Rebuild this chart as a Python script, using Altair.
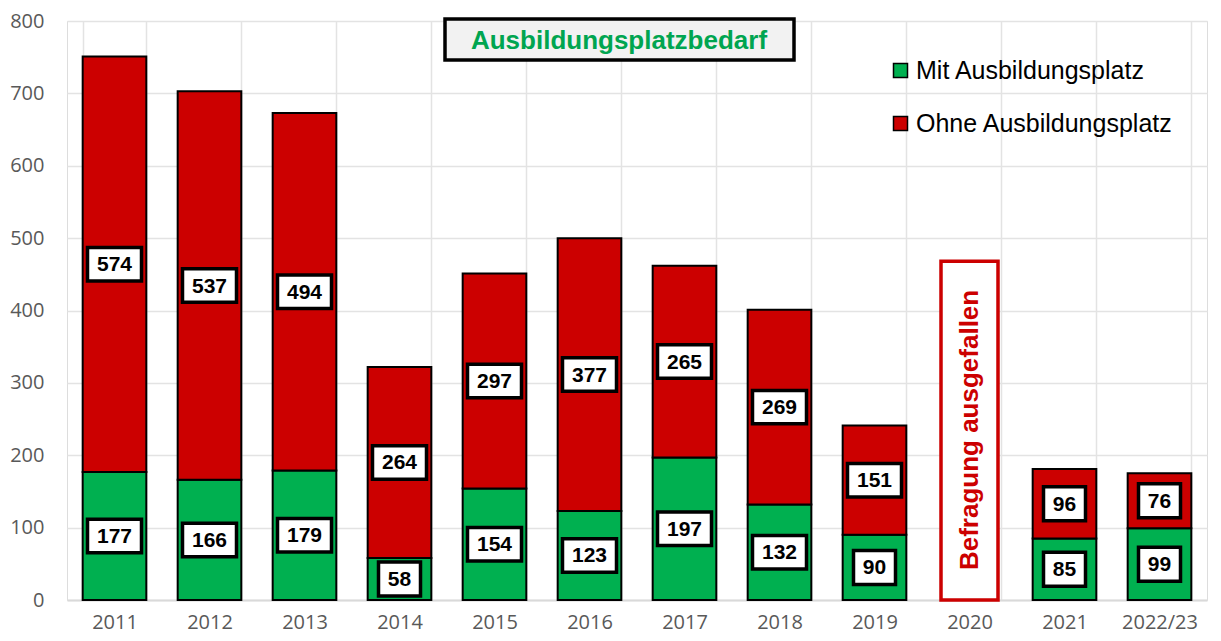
import altair as alt
import pandas as pd

categories = ["2011", "2012", "2013", "2014", "2015", "2016", "2017", "2018", "2019", "2020", "2021", "2022/23"]
mit = [177, 166, 179, 58, 154, 123, 197, 132, 90, None, 85, 99]
ohne = [574, 537, 494, 264, 297, 377, 265, 269, 151, None, 96, 76]
series_names = ["Mit Ausbildungsplatz", "Ohne Ausbildungsplatz"]
series_colors = ["#00B050", "#CC0000"]
y_ticks = [0, 100, 200, 300, 400, 500, 600, 700, 800]
title_text = "Ausbildungsplatzbedarf"
note_text = "Befragung ausgefallen"
note_cat = "2020"
note_top = 468
note_mid = 235

rows = []
for c, m, o in zip(categories, mit, ohne):
    if m is None:
        continue
    rows.append({"cat": c, "series": series_names[0], "ord": 0, "value": m, "mid": m / 2})
    rows.append({"cat": c, "series": series_names[1], "ord": 1, "value": o, "mid": m + o / 2})
df = pd.DataFrame(rows)

note_df = pd.DataFrame([{"cat": note_cat, "lo": 0, "hi": note_top, "mid": note_mid, "txt": note_text}])
title_df = pd.DataFrame([{"txt": title_text}])

W, H = 1140, 579
FONT = "Liberation Sans"
AXFONT = "Open Sans"

x_enc = alt.X("cat:N", sort=categories,
              scale=alt.Scale(domain=categories, paddingInner=0.33, paddingOuter=0.165),
              axis=alt.Axis(title=None, labelAngle=0, tickBand="extent", grid=True, ticks=False,
                            labelFontSize=20, labelFont=AXFONT, labelColor="#595959", labelPadding=12,
                            domainColor="#D9D9D9", domainWidth=2,
                            gridColor="#E3E3E3", gridWidth=1.5))
y_scale = alt.Scale(domain=[0, 800], nice=False)

bars = alt.Chart(df).mark_bar(stroke="black", strokeWidth=2).encode(
    x=x_enc,
    y=alt.Y("value:Q", stack="zero", scale=y_scale,
            axis=alt.Axis(title=None, values=y_ticks, domain=False, ticks=False, grid=True,
                          gridColor="#E3E3E3", gridWidth=1.5,
                          labelFontSize=20, labelFont=AXFONT, labelColor="#595959", labelPadding=23)),
    color=alt.Color("series:N", scale=alt.Scale(domain=series_names, range=series_colors),
                    legend=alt.Legend(title=None, orient="none", legendX=821, legendY=37,
                                      symbolType="square", symbolSize=196, symbolStrokeColor="black",
                                      symbolStrokeWidth=1.5, labelFontSize=25, labelFont=FONT,
                                      labelColor="black", rowPadding=27, labelOffset=3, labelLimit=0)),
    order=alt.Order("ord:Q"),
)

box3 = alt.Chart(df).transform_filter("datum.value >= 100").mark_point(
    shape="M-1,-0.62L1,-0.62L1,0.62L-1,0.62Z", size=54 * 54, filled=True,
    fill="white", stroke="black", strokeWidth=3.5, opacity=1,
).encode(x=alt.X("cat:N", sort=categories), y=alt.Y("mid:Q", scale=y_scale))

box2 = alt.Chart(df).transform_filter("datum.value < 100").mark_point(
    shape="M-1,-0.81L1,-0.81L1,0.81L-1,0.81Z", size=42 * 42, filled=True,
    fill="white", stroke="black", strokeWidth=3.5, opacity=1,
).encode(x=alt.X("cat:N", sort=categories), y=alt.Y("mid:Q", scale=y_scale))

labels = alt.Chart(df).mark_text(font=FONT, fontSize=21, fontWeight="bold", color="black",
                                 baseline="middle", dy=1).encode(
    x=alt.X("cat:N", sort=categories), y=alt.Y("mid:Q", scale=y_scale), text="value:Q")

note_box = alt.Chart(note_df).mark_bar(fill="white", stroke="#CC0000", strokeWidth=3.5, size=57).encode(
    x=alt.X("cat:N", sort=categories), y=alt.Y("lo:Q", scale=y_scale), y2="hi:Q")

note_txt = alt.Chart(note_df).mark_text(font=FONT, fontSize=26, fontWeight="bold", color="#CC0000",
                                        angle=270, baseline="middle").encode(
    x=alt.X("cat:N", sort=categories), y=alt.Y("mid:Q", scale=y_scale), text="txt:N")

title_box = alt.Chart(title_df).mark_rect(fill="#F2F2F2", stroke="black", strokeWidth=3.5).encode(
    x=alt.value(378), x2=alt.value(727), y=alt.value(-2), y2=alt.value(39))
title_txt = alt.Chart(title_df).mark_text(font=FONT, fontSize=26, fontWeight="bold", color="#00A550",
                                          baseline="middle").encode(
    x=alt.value(552), y=alt.value(20), text="txt:N")

chart = alt.layer(bars, note_box, note_txt, box3, box2, labels, title_box, title_txt).properties(
    width=W, height=H,
    autosize=alt.AutoSizeParams(type="none"),
    padding={"left": 59, "top": 13, "right": 6, "bottom": 40},
).configure_view(stroke=None, fill="#FDFDF7").configure(background="white")

chart.save("out.html", embed_options={"renderer": "svg", "actions": False})
